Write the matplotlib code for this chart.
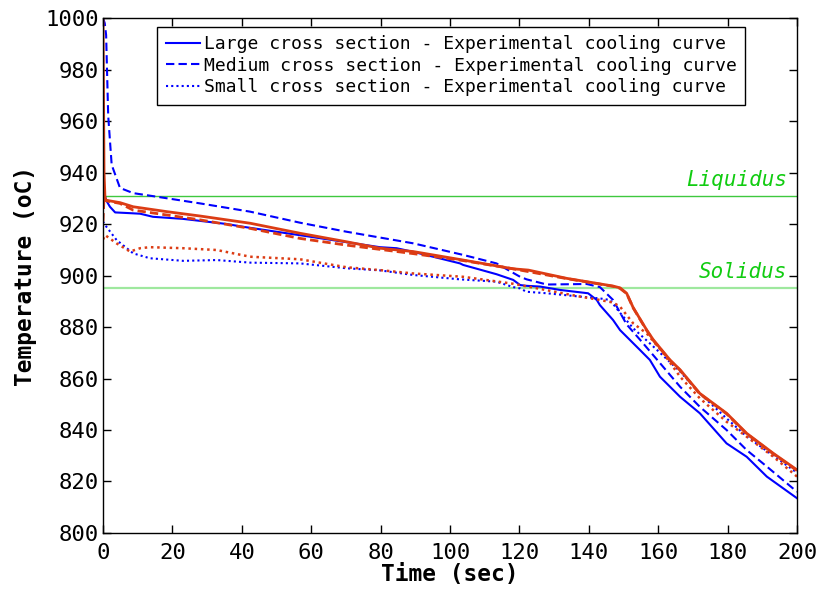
import matplotlib
matplotlib.use("Agg")
import matplotlib.pyplot as plt

plt.rcParams['font.family'] = ['DejaVu Sans Mono']

# Experimental (blue)
large_exp_t = [0, 0.3, 1, 2, 3.5, 8, 10.7, 14.4, 23, 35.7, 40, 60, 79.8, 84.6, 90, 102.9, 103.8, 113.4, 118.2, 120.2, 122, 126, 131.7, 139.8, 142.3, 143.2, 147, 149, 154.8, 157.6, 160.5, 166.3, 172, 179.7, 185.5, 191.3, 200]
large_exp_T = [932, 932, 929, 926.7, 924.5, 924.2, 924, 922.8, 922, 920, 919, 915, 911, 910.6, 909, 904.7, 904.1, 900.5, 898.3, 896.3, 896, 895.7, 894.4, 893.1, 890.5, 888.5, 882.7, 878.8, 871, 867.2, 860.7, 852.9, 846.5, 834.8, 829.6, 821.9, 813.5]

medium_exp_t = [0, 0.5, 0.9, 1.5, 2.5, 4.9, 8.7, 18.4, 28, 42.4, 56.8, 70.2, 89.4, 103.8, 113.4, 120.2, 122.1, 127.9, 139.4, 143.2, 147, 150.9, 154.8, 160.5, 166.3, 172, 179.7, 185.5, 191.3, 200]
medium_exp_T = [1000, 998, 993.4, 962, 943, 934, 932, 930, 928, 924.8, 920.5, 917, 912.5, 908, 904.7, 899.5, 898.5, 896.5, 896.7, 895.5, 890.5, 881, 875, 866, 856.8, 849, 840, 832.2, 825.8, 816]

small_exp_t = [0, 0.6, 3.9, 8.7, 13.5, 23.1, 32.8, 42.4, 56.8, 70.2, 79.8, 89.4, 102.9, 113.4, 118.2, 120.2, 122, 127.9, 137.5, 143.2, 146.1, 149, 152.8, 158.6, 166.3, 172, 179.7, 185.5, 193.2, 200]
small_exp_T = [921, 919.6, 913.8, 908.6, 906.7, 905.7, 906, 905, 904.7, 902.8, 902, 900.2, 898.5, 897.6, 895.5, 895, 893.7, 893.1, 891.8, 891.1, 890.5, 885.5, 879.5, 872.4, 862.7, 854.2, 844.5, 837.5, 830, 823.4]

# Simulated (red)
large_sim_t = [0, 0.3, 0.6, 4.9, 8.7, 18.4, 28, 42.4, 56.8, 70.2, 79.8, 89.4, 103.8, 118.2, 122.6, 133.6, 147, 149, 150.9, 152.8, 156.7, 158.6, 163.4, 166.3, 172, 179.7, 185.5, 193.2, 200]
large_sim_T = [1000, 940, 929.3, 928.3, 926.7, 924.8, 923.1, 920.3, 916.4, 913.1, 910.6, 909.3, 906, 902.6, 902.1, 898.9, 895.9, 895.2, 893.1, 887.5, 878.8, 875, 867.2, 863.4, 854.2, 846.5, 838.7, 830.9, 824.5]

medium_sim_t = [0, 0.3, 1, 4.9, 8.7, 18.4, 28, 42.4, 56.8, 70.2, 89.4, 103.8, 118.2, 133.6, 147, 149, 150.9, 152.8, 156.7, 158.6, 163.4, 166.3, 172, 179.7, 185.5, 193.2, 200]
medium_sim_T = [921, 930.6, 929, 928, 925.4, 923.5, 921.6, 918.3, 914.4, 911.8, 908.5, 905.8, 902.6, 898.8, 895.8, 895, 893, 887.4, 878.6, 874.8, 867, 863.2, 854, 846.3, 838.5, 830.7, 824.2]

small_sim_t = [0, 0.6, 3.9, 7.8, 10.7, 13.5, 23.1, 32.8, 42.4, 56.8, 70.2, 79.8, 89.4, 103.8, 118.2, 137.5, 143.2, 147, 149, 152.8, 156.7, 161.5, 166.3, 172, 179.7, 185.5, 193.2, 200]
small_sim_T = [914, 915.7, 912.5, 909.3, 910.6, 911, 910.6, 909.9, 907.3, 906.3, 903.2, 902.1, 900.8, 899.5, 896.8, 891.8, 890.5, 889.5, 887.9, 881.4, 877.5, 869.8, 860.7, 852.3, 843.2, 837.4, 829.6, 821.9]

liquidus_T = 931
solidus_T = 895

legend_labels = ["Large cross section - Experimental cooling curve",
                 "Medium cross section - Experimental cooling curve",
                 "Small cross section - Experimental cooling curve"]

fig = plt.figure(figsize=(8.22, 5.93), dpi=100)
ax = fig.add_axes([0.1253, 0.1012, 0.8443, 0.8684])

blue = '#0000ff'
red = '#dc3c14'

ax.axhline(liquidus_T, color='#3fc83f', lw=1.0, zorder=1)
ax.axhline(solidus_T, color='#9ee89e', lw=1.6, zorder=1)

l1, = ax.plot(large_exp_t, large_exp_T, color=blue, lw=1.5, ls='-')
l2, = ax.plot(medium_exp_t, medium_exp_T, color=blue, lw=1.5, ls=(0, (4, 2)))
l3, = ax.plot(small_exp_t, small_exp_T, color=blue, lw=1.5, ls=(0, (1, 1.5)))

ax.plot(large_sim_t, large_sim_T, color=red, lw=2.0, ls='-')
ax.plot(medium_sim_t, medium_sim_T, color=red, lw=2.0, ls=(0, (3, 1.5)))
ax.plot(small_sim_t, small_sim_T, color=red, lw=1.8, ls=(0, (1, 1.5)))

ax.text(197.1, 937, "Liquidus", color='#11cc11', style='italic', fontsize=15,
        ha='right', va='center')
ax.text(197.1, 901.4, "Solidus", color='#11cc11', style='italic', fontsize=15,
        ha='right', va='center')

ax.set_xlim(0, 200)
ax.set_ylim(800, 1000)
ax.set_xticks(range(0, 201, 20))
ax.set_yticks(range(800, 1001, 20))
ax.tick_params(direction='in', top=True, right=True, labelsize=16, length=6,
               width=1)
ax.tick_params(axis='x', pad=7)
ax.tick_params(axis='y', pad=3)
for s in ax.spines.values():
    s.set_linewidth(1.0)

ax.set_xlabel("Time (sec)", fontsize=16.5, fontweight='bold', labelpad=0)
ax.set_ylabel("Temperature (oC)", fontsize=16.5, fontweight='bold', labelpad=6)

leg = ax.legend([l1, l2, l3], legend_labels, loc='upper center',
                bbox_to_anchor=(0.502, 0.9825), borderaxespad=0,
                fontsize=13, handlelength=1.9,
                handletextpad=0.25, borderpad=0.45, labelspacing=0.2,
                fancybox=False, edgecolor='black', framealpha=1)
leg.get_frame().set_linewidth(1.0)

fig.savefig("out.png", dpi=100)
